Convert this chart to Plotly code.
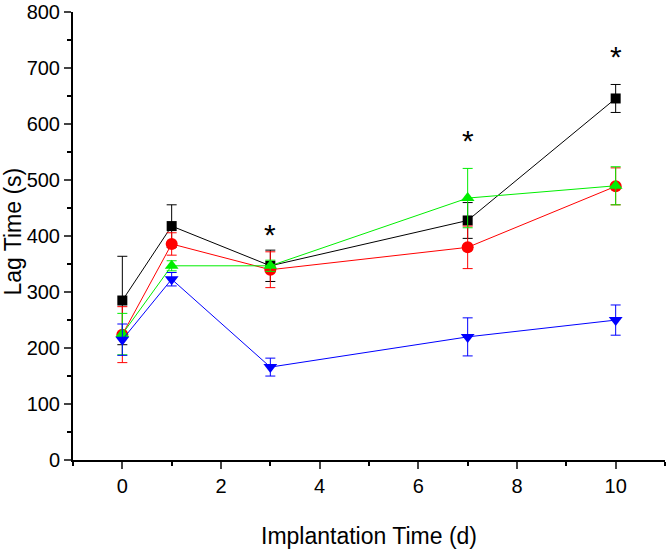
import plotly.graph_objects as go

days = [0, 1, 3, 7, 10]

black_vals = [285, 418, 347, 428, 646]
black_err = [79, 38, 28, 32, 25]
red_vals = [224, 386, 340, 380, 489]
red_err = [50, 20, 32, 38, 33]
green_vals = [225, 347, 347, 468, 490]
green_err = [37, 9, 10, 53, 34]
blue_vals = [215, 323, 166, 220, 250]
blue_err = [28, 12, 16, 34, 27]

star_x = [3, 7, 10]
star_y = [403, 571, 721]

x_ticks = [0, 2, 4, 6, 8, 10]
y_ticks = [0, 100, 200, 300, 400, 500, 600, 700, 800]

x_title = "Implantation Time (d)"
y_title = "Lag Time (s)"

series = [
    ("black", black_vals, black_err, "#000000", "square", 10),
    ("red", red_vals, red_err, "#ff0000", "circle", 12),
    ("green", green_vals, green_err, "#00ee00", "triangle-up", 12),
    ("blue", blue_vals, blue_err, "#0000ff", "triangle-down", 12),
]

fig = go.Figure()
for name, vals, err, col, sym, sz in series:
    fig.add_trace(go.Scatter(
        x=days, y=vals, name=name, mode="lines+markers",
        line=dict(color=col, width=1),
        marker=dict(symbol=sym, size=sz, color=col, line=dict(width=0)),
        error_y=dict(type="data", array=err, visible=True, color=col,
                     thickness=1, width=5),
        showlegend=False,
    ))

for sx, sy in zip(star_x, star_y):
    fig.add_annotation(x=sx, y=sy, text="*", showarrow=False,
                       font=dict(size=30, color="black", family="Liberation Sans, Arial"))

fig.add_annotation(xref="paper", yref="paper", x=0.5, y=-0.17, text=x_title,
                   showarrow=False, xanchor="center", yanchor="middle",
                   font=dict(size=23))
fig.add_annotation(xref="paper", yref="paper", x=-0.102, y=0.509, text=y_title,
                   showarrow=False, xanchor="center", yanchor="middle", textangle=-90,
                   font=dict(size=23))

fig.update_layout(
    width=666, height=550,
    margin=dict(l=73, r=1, t=12, b=90),
    paper_bgcolor="white", plot_bgcolor="white",
    font=dict(family="Liberation Sans, Arial", size=20, color="black"),
)
fig.update_xaxes(
    range=[-1, 11], tickvals=x_ticks, ticks="outside", ticklen=7, tickwidth=2,
    showline=True, linecolor="black", linewidth=2, showgrid=False, zeroline=False,
    automargin=False, tickfont=dict(size=20),
    minor=dict(ticks="outside", ticklen=4, tickwidth=2, dtick=1, tick0=0, tickcolor="black"),
)
fig.update_yaxes(
    range=[0, 800.5], tickvals=y_ticks, ticks="outside", ticklen=7, tickwidth=2,
    showline=True, linecolor="black", linewidth=2, showgrid=False, zeroline=False,
    automargin=False, tickfont=dict(size=20), ticklabeloverflow="allow",
    minor=dict(ticks="outside", ticklen=4, tickwidth=2, dtick=50, tick0=0, tickcolor="black"),
)

fig.write_html("out.html", config={"displayModeBar": False},
               post_script="document.body.style.margin='0';document.body.style.padding='0';")
